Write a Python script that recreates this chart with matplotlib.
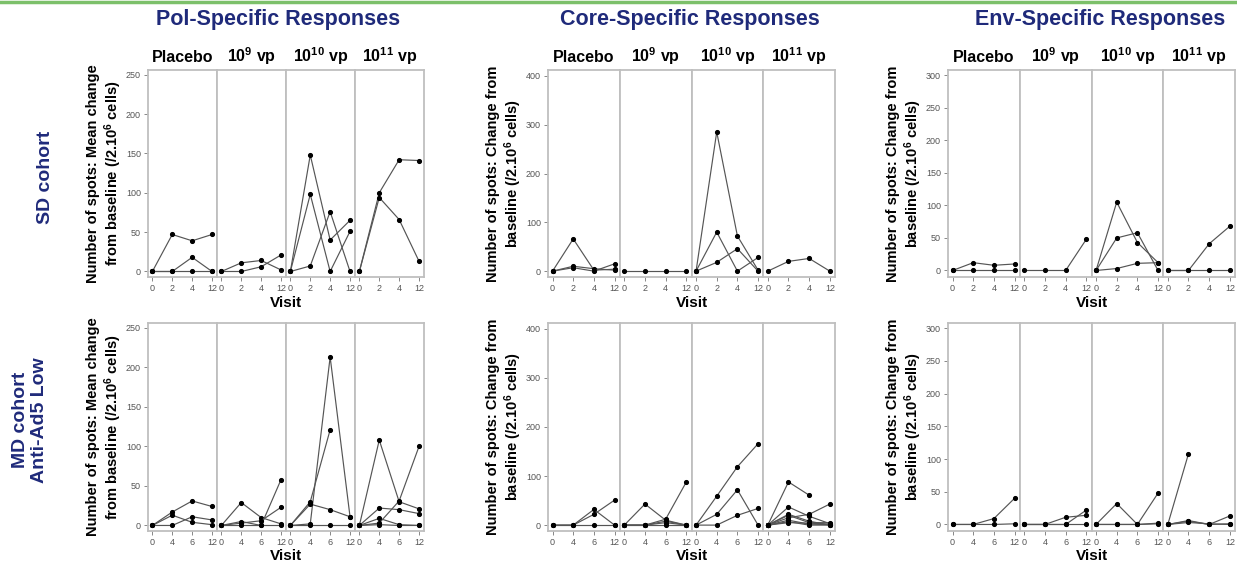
import numpy as np
import matplotlib
matplotlib.use("Agg")
import matplotlib.pyplot as plt
from matplotlib.lines import Line2D

nan = np.nan

# ---------------- data ----------------
doses = ["Placebo", "$10^{9}$ vp", "$10^{10}$ vp", "$10^{11}$ vp"]
visits_sd = ["0", "2", "4", "12"]
visits_md = ["0", "4", "6", "12"]

# Pol-specific, SD cohort
pol_sd_placebo = [[0, 47, 39, 47], [0, 0, 18, 0], [0, 0, 0, 0]]
pol_sd_e9 = [[0, 11, 14, 2], [0, 0, 6, 21]]
pol_sd_e10 = [[0, 148, 40, 65], [0, 98, 0, 51], [0, 7, 76, 0]]
pol_sd_e11 = [[0, 100, 142, 141], [0, 94, 66, 13]]
# Pol-specific, MD cohort
pol_md_placebo = [[0, 17, 31, 24], [0, 13, 4, 1], [0, 0, 11, 7]]
pol_md_e9 = [[0, 29, 10, 2], [0, 5, 0, 58], [0, 3, 6, 23], [0, 0, 0, 0]]
pol_md_e10 = [[0, 2, 213, 11], [0, 30, 121, nan], [0, 27, 20, 11], [0, 0, 0, 0]]
pol_md_e11 = [[0, 108, 30, 21], [0, 3, 31, 100], [0, 22, 20, 15], [0, 9, 1, 0], [0, 1, 0, 0]]
# Core-specific, SD cohort
core_sd_placebo = [[0, 66, 2, 4], [0, 10, 5, 2], [0, 7, 0, 15]]
core_sd_e9 = [[0, 0, 0, 0]]
core_sd_e10 = [[0, 285, 72, 2], [0, 80, 0, 28], [0, 18, 46, 0]]
core_sd_e11 = [[0, 20, 26, 0]]
# Core-specific, MD cohort
core_md_placebo = [[0, 0, 22, 51], [0, 0, 32, 0], [0, 0, 0, 0]]
core_md_e9 = [[0, 43, 10, 0], [0, 0, 12, 88], [0, 0, 8, 0], [0, 0, 5, 0], [0, 0, 0, 0]]
core_md_e10 = [[0, 59, 119, 166], [0, 22, 72, 0], [0, 0, 20, 34]]
core_md_e11 = [[0, 88, 61, nan], [0, 37, 18, 3], [0, 22, 8, 0], [0, 15, 22, 43],
               [0, 20, 5, 5], [0, 10, 2, 1], [0, 7, 0, 0], [0, 5, 4, 2]]
# Env-specific, SD cohort
env_sd_placebo = [[0, 12, 8, 10], [0, 0, 0, 0]]
env_sd_e9 = [[0, 0, 0, 48]]
env_sd_e10 = [[0, 105, 43, 12], [0, 50, 58, 0], [0, 3, 11, 12]]
env_sd_e11 = [[0, 0, 41, 68], [0, 0, 0, 0]]
# Env-specific, MD cohort
env_md_placebo = [[0, 0, 9, 40], [0, 0, 0, 1]]
env_md_e9 = [[0, 0, 11, 14], [0, 0, 0, 22], [0, 0, 0, 0]]
env_md_e10 = [[0, 32, 0, 48], [0, 0, 0, 1], [0, 0, 0, 2]]
env_md_e11 = [[0, 108, nan, nan], [0, 5, 0, 13], [0, 3, 1, 0], [0, 6, 0, 1]]

col_titles = ["Pol-Specific Responses", "Core-Specific Responses", "Env-Specific Responses"]
ylabels = ["Number of spots: Mean change\nfrom baseline (/2.10$^{6}$ cells)",
           "Number of spots: Change from\nbaseline (/2.10$^{6}$ cells)",
           "Number of spots: Change from\nbaseline (/2.10$^{6}$ cells)"]
yticks_cols = [[0, 50, 100, 150, 200, 250], [0, 100, 200, 300, 400], [0, 50, 100, 150, 200, 250, 300]]
ylims_cols = [(-7, 256), (-12, 412), (-10, 308)]

panels = {
    (0, 0): [pol_sd_placebo, pol_sd_e9, pol_sd_e10, pol_sd_e11],
    (1, 0): [pol_md_placebo, pol_md_e9, pol_md_e10, pol_md_e11],
    (0, 1): [core_sd_placebo, core_sd_e9, core_sd_e10, core_sd_e11],
    (1, 1): [core_md_placebo, core_md_e9, core_md_e10, core_md_e11],
    (0, 2): [env_sd_placebo, env_sd_e9, env_sd_e10, env_sd_e11],
    (1, 2): [env_md_placebo, env_md_e9, env_md_e10, env_md_e11],
}

# ---------------- style ----------------
plt.rcParams['font.family'] = ['Liberation Sans', 'DejaVu Sans']
plt.rcParams['mathtext.fontset'] = 'custom'
plt.rcParams['mathtext.rm'] = 'Liberation Sans:bold'
plt.rcParams['mathtext.it'] = 'Liberation Sans:bold'
plt.rcParams['mathtext.bf'] = 'Liberation Sans:bold'
plt.rcParams['mathtext.default'] = 'rm'

W, H = 1237, 565
fig = plt.figure(figsize=(W / 100, H / 100), dpi=100)
navy = '#1F2A7A'
frame = '#BFBFBF'

def fx(px):
    return px / W

def fy(py):
    return 1 - py / H

group_x = [(148, 424), (548, 835), (948, 1235)]
row_y = [(70, 277), (323, 531)]

for (r, c), facets in panels.items():
    x0, x1 = group_x[c]
    y0, y1 = row_y[r]
    fw = (x1 - x0) / 4
    labels = visits_sd if r == 0 else visits_md
    for k in range(4):
        ax = fig.add_axes([fx(x0 + k * fw), fy(y1), fx(fw), (y1 - y0) / H])
        for s in ax.spines.values():
            s.set_color(frame)
            s.set_linewidth(1.3)
        for series in facets[k]:
            ax.plot(range(4), series, color='#555555', lw=0.85,
                    marker='o', ms=2.7, mfc='black', mec='black', zorder=3)
        ax.set_xlim(-0.22, 3.25)
        ax.set_ylim(*ylims_cols[c])
        ax.set_xticks(range(4))
        ax.set_xticklabels(labels, fontsize=6.5, color='#555555')
        ax.tick_params(axis='x', length=3, width=0.7, color='#888888', pad=2)
        ax.set_yticks(yticks_cols[c])
        if k == 0:
            ax.set_yticklabels([str(v) for v in yticks_cols[c]], fontsize=6.5, color='#555555')
            ax.tick_params(axis='y', length=3, width=0.7, color='#888888', pad=2)
        else:
            ax.tick_params(axis='y', length=0, labelleft=False)
        if r == 0:
            ax.set_title(doses[k], fontsize=11.5, fontweight='bold', pad=6)
    # x label
    fig.text(fx((x0 + x1) / 2), fy(303 if r == 0 else 556), "Visit",
             ha='center', va='center', fontsize=11, fontweight='bold')
    # y label
    fig.text(fx(x0 - 43), fy((y0 + y1) / 2), ylabels[c], rotation=90,
             ha='center', va='center', fontsize=10.5, fontweight='bold',
             linespacing=1.2)

# column titles
for c, t in enumerate(col_titles):
    fig.text(fx([278, 690, 1100][c]), fy(20), t, ha='center', va='center',
             fontsize=15.5, fontweight='bold', color=navy,
             family=['Liberation Sans Narrow', 'Liberation Sans', 'DejaVu Sans'])

# row labels
fig.text(fx(45), fy(177), "SD cohort", rotation=90, ha='center', va='center',
         fontsize=14, fontweight='bold', color=navy)
fig.text(fx(30), fy(420), "MD cohort\nAnti-Ad5 Low", rotation=90, ha='center',
         va='center', fontsize=14, fontweight='bold', color=navy, linespacing=1.15)

# green top rule
fig.add_artist(Line2D([0, 1], [fy(1.5), fy(1.5)], color='#7CC06A', lw=2.5,
                      transform=fig.transFigure))

fig.savefig("out.png", dpi=100)
